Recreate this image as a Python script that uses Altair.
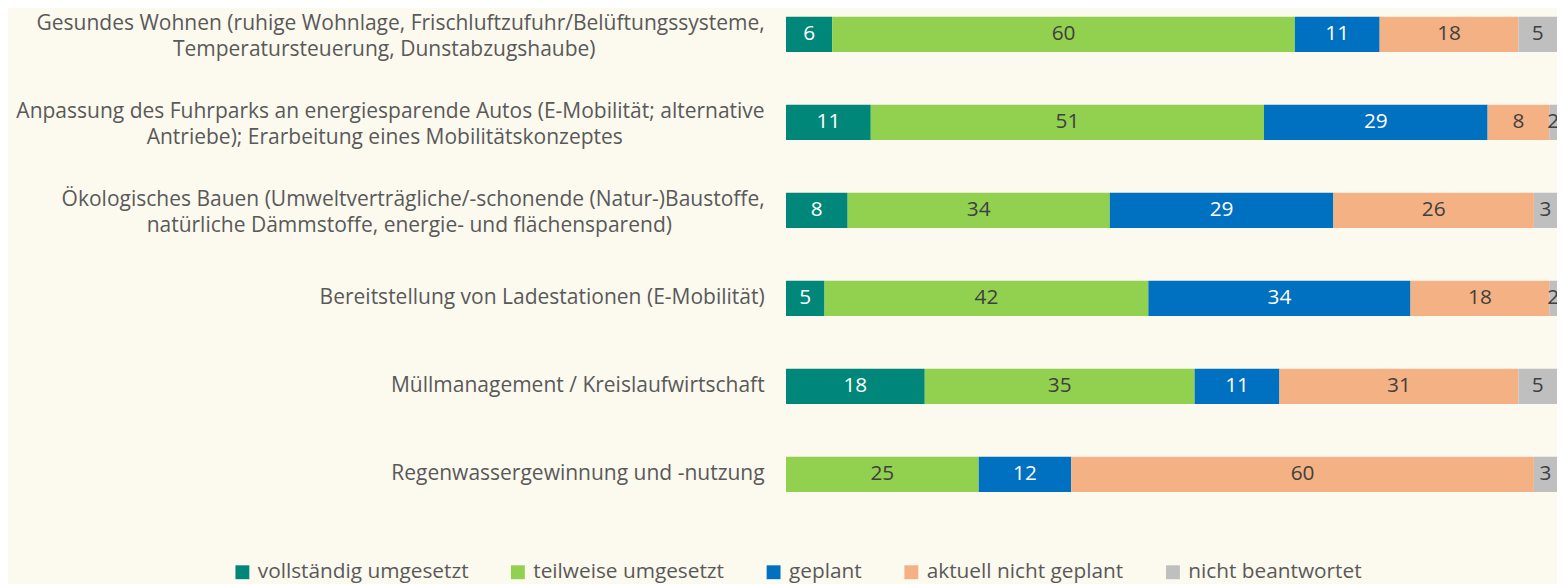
import altair as alt
import pandas as pd

category_lines = [
    ["Gesundes Wohnen (ruhige Wohnlage, Frischluftzufuhr/Belüftungssysteme,", "Temperatursteuerung, Dunstabzugshaube)"],
    ["Anpassung des Fuhrparks an energiesparende Autos (E-Mobilität; alternative", "Antriebe); Erarbeitung eines Mobilitätskonzeptes"],
    ["Ökologisches Bauen (Umweltverträgliche/-schonende (Natur-)Baustoffe,", "natürliche Dämmstoffe, energie- und flächensparend)"],
    ["Bereitstellung von Ladestationen (E-Mobilität)"],
    ["Müllmanagement / Kreislaufwirtschaft"],
    ["Regenwassergewinnung und -nutzung"],
]
series = ["vollständig umgesetzt", "teilweise umgesetzt", "geplant", "aktuell nicht geplant", "nicht beantwortet"]
colors = ["#00877A", "#92D050", "#0070C0", "#F4B183", "#BFBFBF"]

vollstaendig = [6, 11, 8, 5, 18, 0]
teilweise = [60, 51, 34, 42, 35, 25]
geplant = [11, 29, 29, 34, 11, 12]
nicht_geplant = [18, 8, 26, 18, 31, 60]
nicht_beantwortet = [5, 2, 3, 2, 5, 3]


def centered_label(lines):
    # right-aligned axis labels: pad shorter lines with no-break spaces (closed by a word joiner
    # so they are not trimmed) so the two-line block looks centred
    longest = max(len(l) for l in lines)
    return "|".join(
        l + ("\u00a0" * (longest - len(l)) + "\u2060" if len(l) < longest else "") for l in lines
    )


categories = [centered_label(l) for l in category_lines]

values = [vollstaendig, teilweise, geplant, nicht_geplant, nicht_beantwortet]
rows = []
for si, (s, vals) in enumerate(zip(series, values)):
    for c, v in zip(categories, vals):
        rows.append({"cat": c, "series": s, "order": si, "value": v})
df = pd.DataFrame(rows)

FONT = "Open Sans"
TXT = "#595959"
LINE_H = 26

base = alt.Chart(df).transform_stack(
    stack="value", groupby=["cat"], sort=[alt.SortField("order", order="ascending")], as_=["x0", "x1"]
).transform_calculate(
    mid="(datum.x0 + min(datum.x1, 100)) / 2"
)

y_enc = alt.Y(
    "cat:N", sort=categories, title=None,
    scale=alt.Scale(paddingInner=0.6, paddingOuter=0.07),
    axis=alt.Axis(
        labelExpr="split(datum.label, '|')", labelFont=FONT, labelFontSize=21.2, labelColor=TXT,
        labelLineHeight=LINE_H, ticks=False, domain=False, labelPadding=22, labelLimit=800,
        labelOffset={"condition": {"test": "indexof(datum.label, '|') >= 0", "value": -10}, "value": 0},
    ),
)

bars = base.mark_bar(clip=True).encode(
    x=alt.X("x0:Q", scale=alt.Scale(domain=[0, 100]), axis=None, title=None),
    x2="x1:Q",
    y=y_enc,
    color=alt.Color(
        "series:N", sort=series, scale=alt.Scale(domain=series, range=colors), title=None,
        legend=alt.Legend(
            orient="none", direction="horizontal", legendX=-559, legendY=556,
            symbolType="square", symbolSize=196, symbolStrokeWidth=0, labelFont=FONT, labelFontSize=21,
            labelColor=TXT, columnPadding=39, labelOffset=5, labelLimit=400, padding=0,
        ),
    ),
)

labels = base.transform_filter("datum.value > 0").mark_text(font=FONT, fontSize=21).encode(
    x=alt.X("mid:Q", scale=alt.Scale(domain=[0, 100])),
    y=alt.Y("cat:N", sort=categories),
    text="value:Q",
    color=alt.condition(
        alt.FieldOneOfPredicate(field="series", oneOf=["vollständig umgesetzt", "geplant"]),
        alt.value("white"), alt.value("#404040"),
    ),
)

chart = alt.layer(bars, labels).properties(
    width=778, height=492, background="#FCF9EF",
    padding={"left": 785, "top": 0, "right": 0, "bottom": 84},
    autosize=alt.AutoSizeParams(type="none"),
).configure_view(stroke=None)

chart.save("out.html", embed_options={"renderer": "svg", "actions": False})
